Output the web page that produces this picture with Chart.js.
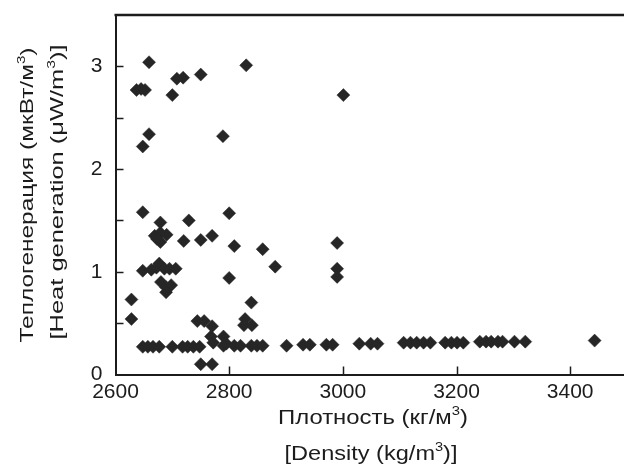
<!DOCTYPE html>
<html>
<head>
<meta charset="utf-8">
<script src="https://cdn.jsdelivr.net/npm/chart.js@4"></script>
<style>
html, body { margin: 0; padding: 0; background: #fff; overflow: hidden; }
canvas { display: block; }
</style>
</head>
<body>
<canvas id="chart" width="634" height="473"></canvas>
<script>
// density (kg/m3) and heat generation (uW/m3)
const density = [
  2659, 2830, 2637, 2645, 2652, 2700, 2708, 2719, 2750, 3001, 2659, 2648, 2789,
  2648, 2679, 2729, 2800, 2669, 2679, 2690, 2679, 2673, 2720, 2750, 2770, 2809,
  2859, 2881, 2800, 2990, 2990, 2990,
  2648, 2663, 2672, 2677, 2686, 2695, 2706, 2680, 2689, 2698, 2689,
  2628, 2628, 2839, 2744, 2756, 2828, 2826, 2840, 2770, 2768, 2772, 2790, 2795,
  2750, 2770,
  2648, 2657, 2666, 2677, 2700, 2718, 2727, 2737, 2748, 2790, 2809, 2820, 2839,
  2849, 2859, 2901, 2930, 2942, 2971, 2982, 3029, 3049, 3061, 3107, 3119, 3130,
  3142, 3154, 3180, 3191, 3201, 3212, 3241, 3252, 3261, 3273, 3281, 3302, 3321,
  3443
];
const heat = [
  3.04, 3.01, 2.77, 2.78, 2.77, 2.72, 2.88, 2.89, 2.92, 2.72, 2.34, 2.22, 2.32,
  1.58, 1.48, 1.50, 1.57, 1.35, 1.38, 1.36, 1.29, 1.32, 1.30, 1.31, 1.35, 1.25,
  1.22, 1.05, 0.94, 1.28, 1.03, 0.95,
  1.01, 1.02, 1.04, 1.08, 1.03, 1.03, 1.03, 0.90, 0.85, 0.87, 0.80,
  0.73, 0.54, 0.70, 0.52, 0.52, 0.54, 0.48, 0.48, 0.47, 0.37, 0.31, 0.37, 0.30,
  0.10, 0.10,
  0.27, 0.27, 0.27, 0.27, 0.27, 0.27, 0.27, 0.27, 0.27, 0.28, 0.28, 0.28, 0.28,
  0.28, 0.28, 0.28, 0.29, 0.29, 0.29, 0.29, 0.30, 0.30, 0.30, 0.31, 0.31, 0.31,
  0.31, 0.31, 0.31, 0.31, 0.31, 0.31, 0.32, 0.32, 0.32, 0.32, 0.32, 0.32, 0.32,
  0.33
];
const xTicks = [2600, 2800, 3000, 3200, 3400];
const yTicks = [0, 1, 2, 3];

const points = density.map((d, i) => ({ x: d, y: heat[i] }));
const FONT = '"Liberation Sans", Arial, sans-serif';
const INK = '#1c1c1c';

// text with a superscript "3", squeezed/stretched to a given length
function richWidth(ctx, parts, size) {
  let w = 0;
  parts.forEach(([t, sup]) => {
    ctx.font = (sup ? size * 0.62 : size) + 'px ' + FONT;
    w += ctx.measureText(t).width;
  });
  return w;
}
function drawTitle(ctx, parts, size, cx, cy, len, rotated) {
  const w = richWidth(ctx, parts, size);
  ctx.save();
  ctx.translate(cx, cy);
  if (rotated) ctx.rotate(-Math.PI / 2);
  ctx.scale(len / w, 1);
  let x = -w / 2;
  parts.forEach(([t, sup]) => {
    ctx.font = (sup ? size * 0.62 : size) + 'px ' + FONT;
    ctx.fillText(t, x, sup ? -size * 0.42 : 0);
    x += ctx.measureText(t).width;
  });
  ctx.restore();
}

const frame = {
  id: 'frame',
  afterDraw(chart) {
    const { ctx, chartArea: a, scales: { x, y } } = chart;
    ctx.save();
    ctx.strokeStyle = INK;
    ctx.lineWidth = 2.5;
    ctx.beginPath();
    ctx.moveTo(a.left - 1, a.top);
    ctx.lineTo(chart.width, a.top);
    ctx.stroke();

    // inward ticks
    ctx.lineWidth = 1.5;
    ctx.beginPath();
    for (let v = 0.5; v < 3.5; v += 0.5) {
      const py = Math.round(y.getPixelForValue(v)) + 0.5;
      ctx.moveTo(a.left, py);
      ctx.lineTo(a.left + 8, py);
    }
    xTicks.slice(1).forEach(v => {
      const px = Math.round(x.getPixelForValue(v)) + 0.5;
      ctx.moveTo(px, a.bottom);
      ctx.lineTo(px, a.bottom - 8);
    });
    ctx.stroke();

    ctx.fillStyle = INK;
    ctx.textAlign = 'left';
    ctx.textBaseline = 'alphabetic';
    drawTitle(ctx, [['Плотность (кг/м', 0], ['3', 1], [')', 0]], 21, 373, 424, 190, false);
    drawTitle(ctx, [['[Density (kg/m', 0], ['3', 1], [')]', 0]], 21, 371, 460, 173, false);
    drawTitle(ctx, [['Теплогенерация (мкВт/м', 0], ['3', 1], [')', 0]], 19, 33, 195, 295, true);
    drawTitle(ctx, [['[Heat generation (μW/m', 0], ['3', 1], [')]', 0]], 19, 63, 192, 295, true);
    ctx.restore();
  }
};

new Chart(document.getElementById('chart'), {
  type: 'scatter',
  data: {
    datasets: [{
      data: points,
      pointStyle: 'rectRot',
      pointRadius: 6.5,
      pointBorderWidth: 0.5,
      backgroundColor: '#262626',
      borderColor: '#262626'
    }]
  },
  options: {
    responsive: false,
    animation: false,
    layout: { padding: { top: 15, right: 0, left: 0, bottom: 0 } },
    plugins: {
      legend: { display: false },
      tooltip: { enabled: false }
    },
    scales: {
      x: {
        type: 'linear',
        min: 2600,
        max: 3500,
        grid: { display: false, drawTicks: false },
        border: { display: true, color: INK, width: 2 },
        ticks: {
          stepSize: 200,
          includeBounds: false,
          autoSkip: false,
          maxRotation: 0,
          padding: 5,
          color: INK,
          font: { family: FONT, size: 21 },
          callback: v => xTicks.includes(v) ? String(v) : ''
        },
        afterFit: s => { s.height = 98.5; s.paddingLeft = 0; s.paddingRight = 0; }
      },
      y: {
        min: 0,
        max: 3.5,
        grid: { display: false, drawTicks: false },
        border: { display: true, color: INK, width: 2 },
        ticks: {
          stepSize: 0.5,
          autoSkip: false,
          padding: 13,
          color: INK,
          font: { family: FONT, size: 21 },
          callback: v => yTicks.includes(v) ? String(v) : ''
        },
        afterFit: s => { s.width = 115.5; s.paddingTop = 0; s.paddingBottom = 0; }
      }
    }
  },
  plugins: [frame]
});
</script>
</body>
</html>
